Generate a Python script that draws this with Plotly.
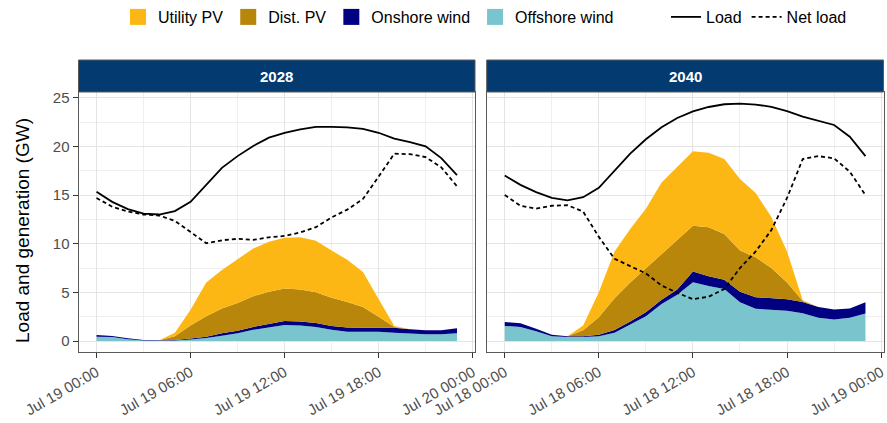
import pandas as pd
import plotly.graph_objects as go

# ---------------------------------------------------------------------------
# Hourly data (GW)
# ---------------------------------------------------------------------------
hours = list(range(24))
years = ["2028", "2040"]
days = {"2028": "2028-07-19", "2040": "2040-07-18"}

load = {
    "2028": [15.35, 14.3, 13.55, 13.1, 13.0, 13.35, 14.3, 16.0, 17.8, 19.0, 20.05, 20.9,
             21.4, 21.75, 22.0, 22.0, 21.95, 21.8, 21.4, 20.8, 20.45, 20.0, 18.8, 17.05],
    "2040": [17.0, 16.05, 15.3, 14.72, 14.45, 14.78, 15.75, 17.5, 19.25, 20.73, 21.97, 22.92,
             23.6, 24.05, 24.33, 24.4, 24.3, 24.07, 23.62, 23.06, 22.62, 22.2, 21.0, 19.0],
}
net_load = {
    "2028": [14.7, 13.8, 13.3, 13.0, 12.9, 12.35, 11.2, 10.05, 10.35, 10.5, 10.4, 10.65,
             10.8, 11.15, 11.7, 12.7, 13.5, 14.6, 16.9, 19.25, 19.2, 18.9, 17.85, 15.9],
    "2040": [15.0, 13.9, 13.6, 13.9, 13.95, 13.3, 10.7, 8.45, 7.7, 6.95, 5.7, 4.95,
             4.3, 4.55, 5.35, 7.5, 9.2, 11.4, 14.7, 18.7, 19.0, 18.77, 17.4, 15.0],
}
offshore_wind = {
    "2028": [0.45, 0.4, 0.17, 0.05, 0.03, 0.05, 0.15, 0.3, 0.55, 0.8, 1.15, 1.4,
             1.65, 1.6, 1.45, 1.15, 0.95, 0.95, 0.95, 0.85, 0.75, 0.7, 0.7, 0.8],
    "2040": [1.55, 1.45, 1.0, 0.5, 0.4, 0.4, 0.5, 0.85, 1.7, 2.55, 3.8, 4.75,
             6.05, 5.65, 5.35, 3.97, 3.32, 3.2, 3.1, 2.85, 2.4, 2.2, 2.38, 2.83],
}
onshore_wind = {
    "2028": [0.17, 0.12, 0.11, 0.05, 0.04, 0.05, 0.12, 0.15, 0.25, 0.25, 0.3, 0.35,
             0.4, 0.4, 0.4, 0.4, 0.45, 0.4, 0.4, 0.5, 0.45, 0.4, 0.4, 0.5],
    "2040": [0.4, 0.37, 0.25, 0.15, 0.1, 0.1, 0.15, 0.27, 0.3, 0.4, 0.45, 0.55,
             1.1, 1.0, 0.95, 1.08, 1.18, 1.22, 1.2, 1.15, 1.1, 1.05, 0.97, 1.15],
}
dist_pv = {
    "2028": [0, 0, 0, 0, 0, 0.4, 1.33, 2.1, 2.55, 2.85, 3.15, 3.3,
             3.35, 3.3, 3.15, 2.9, 2.6, 2.15, 1.15, 0.1, 0, 0, 0, 0],
    "2040": [0, 0, 0, 0, 0, 0.6, 1.8, 3.28, 4.0, 4.5, 4.75, 5.1,
             4.7, 5.05, 4.7, 4.25, 4.1, 3.08, 1.7, 0.1, 0, 0, 0, 0],
}
utility_pv = {
    "2028": [0, 0, 0, 0, 0, 0.35, 1.6, 3.45, 3.95, 4.5, 4.9, 5.15,
             5.2, 5.35, 5.3, 4.85, 4.35, 3.6, 1.8, 0.1, 0, 0, 0, 0],
    "2040": [0, 0, 0, 0, 0, 0.5, 2.55, 4.8, 5.5, 6.15, 7.3, 7.5,
             7.65, 7.65, 7.7, 7.35, 6.6, 5.25, 3.2, 0.1, 0, 0, 0, 0],
}

# stacked bottom-to-top; legend lists them top-to-bottom
sources = [
    ("Offshore wind", offshore_wind, "#7AC5CD"),
    ("Onshore wind", onshore_wind, "#000080"),
    ("Dist. PV", dist_pv, "#B8860B"),
    ("Utility PV", utility_pv, "#FDB714"),
]

FONT = "Liberation Sans, Arial, sans-serif"
W, H = 887, 423

# panel geometry in pixels
panel_x = {"2028": (78.5, 475.0), "2040": (486.7, 883.5)}
panel_top, panel_bottom = 92.0, 352.0
strip_top = 60.0


def px_x(v):
    return v / W


def px_y(v):
    return (H - v) / H


fig = go.Figure()

axis_ids = {"2028": ("x", "y"), "2040": ("x2", "y2")}

for yr in years:
    xa, ya = axis_ids[yr]
    t0 = pd.Timestamp(days[yr])
    xs = [(t0 + pd.Timedelta(hours=h)).strftime("%Y-%m-%d %H:%M") for h in hours]
    for name, series, color in sources:
        fig.add_trace(go.Scatter(
            x=xs, y=series[yr], xaxis=xa, yaxis=ya,
            mode="lines", line=dict(width=0, color=color),
            fillcolor=color, stackgroup="gen" + yr,
            name=name, showlegend=False, hoverinfo="skip",
        ))
    fig.add_trace(go.Scatter(
        x=xs, y=load[yr], xaxis=xa, yaxis=ya, mode="lines",
        line=dict(color="black", width=1.8), name="Load",
        legend="legend2", showlegend=(yr == "2028"), hoverinfo="skip",
    ))
    fig.add_trace(go.Scatter(
        x=xs, y=net_load[yr], xaxis=xa, yaxis=ya, mode="lines",
        line=dict(color="black", width=1.8, dash="4px,3px"), name="Net load",
        legend="legend2", showlegend=(yr == "2028"), hoverinfo="skip",
    ))

# square swatches for the generation legend
for name, series, color in reversed(sources):
    fig.add_trace(go.Scatter(
        x=[None], y=[None], xaxis="x", yaxis="y", mode="markers",
        marker=dict(symbol="square", size=16, color=color),
        name=name, legend="legend", showlegend=True, hoverinfo="skip",
    ))

grid_major = "#E4E4E4"
grid_minor = "#EFEFEF"
tick_font = dict(family=FONT, size=15, color="#4D4D4D")

layout_axes = {}
for yr in years:
    xa, ya = axis_ids[yr]
    t0 = pd.Timestamp(days[yr])
    x0, x1 = panel_x[yr]
    rng = [(t0 - pd.Timedelta(hours=1.15)).strftime("%Y-%m-%d %H:%M:%S"),
           (t0 + pd.Timedelta(hours=24.15)).strftime("%Y-%m-%d %H:%M:%S")]
    xkey = "xaxis" if xa == "x" else "xaxis2"
    ykey = "yaxis" if ya == "y" else "yaxis2"
    layout_axes[xkey] = dict(
        type="date", domain=[px_x(x0), px_x(x1)], range=rng, anchor=ya,
        tick0=t0.strftime("%Y-%m-%d %H:%M"), dtick=6 * 3600 * 1000,
        tickformat="%b %d %H:%M", tickangle=-30, tickfont=tick_font,
        ticks="outside", ticklen=5, tickwidth=1, tickcolor="#333333",
        showgrid=True, gridcolor=grid_major, gridwidth=1.1,
        minor=dict(dtick=3 * 3600 * 1000, showgrid=True,
                   gridcolor=grid_minor, gridwidth=0.8),
        showline=True, mirror=True, linecolor="#5A5A5A", linewidth=1,
        zeroline=False, fixedrange=True, automargin=False,
    )
    layout_axes[ykey] = dict(
        domain=[px_y(panel_bottom), px_y(panel_top)], range=[-1.13, 25.59],
        anchor=xa, tick0=0, dtick=5, tickfont=tick_font,
        ticks="outside" if yr == "2028" else "", ticklen=5, tickwidth=1,
        tickcolor="#333333", showticklabels=(yr == "2028"),
        showgrid=True, gridcolor=grid_major, gridwidth=1.1,
        minor=dict(dtick=2.5, showgrid=True, gridcolor=grid_minor, gridwidth=0.8),
        showline=True, mirror=True, linecolor="#5A5A5A", linewidth=1,
        zeroline=False, fixedrange=True, automargin=False,
    )
    if yr == "2040":
        layout_axes[ykey]["matches"] = "y"

shapes = []
annotations = []
for yr in years:
    x0, x1 = panel_x[yr]
    shapes.append(dict(
        type="rect", xref="paper", yref="paper",
        x0=px_x(x0), x1=px_x(x1), y0=px_y(panel_top), y1=px_y(strip_top),
        fillcolor="#033A70", line=dict(color="#5A5A5A", width=1), layer="above",
    ))
    annotations.append(dict(
        text="<b>%s</b>" % yr, xref="paper", yref="paper",
        x=px_x((x0 + x1) / 2), y=px_y((panel_top + strip_top) / 2),
        showarrow=False, font=dict(family=FONT, size=15, color="white"),
        xanchor="center", yanchor="middle",
    ))

annotations.append(dict(
    text="Load and generation (GW)", xref="paper", yref="paper",
    x=px_x(22), y=px_y(231), textangle=-90,
    showarrow=False, font=dict(family=FONT, size=19, color="black"),
    xanchor="center", yanchor="middle",
))

fig.update_layout(
    width=W, height=H,
    margin=dict(l=0, r=0, t=0, b=0, autoexpand=False),
    paper_bgcolor="white", plot_bgcolor="white",
    font=dict(family=FONT, size=15, color="black"),
    shapes=shapes, annotations=annotations,
    legend=dict(
        orientation="h", x=px_x(118), y=px_y(17), xanchor="left", yanchor="middle",
        font=dict(family=FONT, size=16, color="black"), bgcolor="rgba(0,0,0,0)",
        itemsizing="trace", traceorder="normal",
    ),
    legend2=dict(
        orientation="h", x=px_x(666), y=px_y(17), xanchor="left", yanchor="middle",
        font=dict(family=FONT, size=16, color="black"), bgcolor="rgba(0,0,0,0)",
        traceorder="normal",
    ),
    showlegend=True,
    **layout_axes,
)

fig.write_html("out.html", config={"displayModeBar": False})
